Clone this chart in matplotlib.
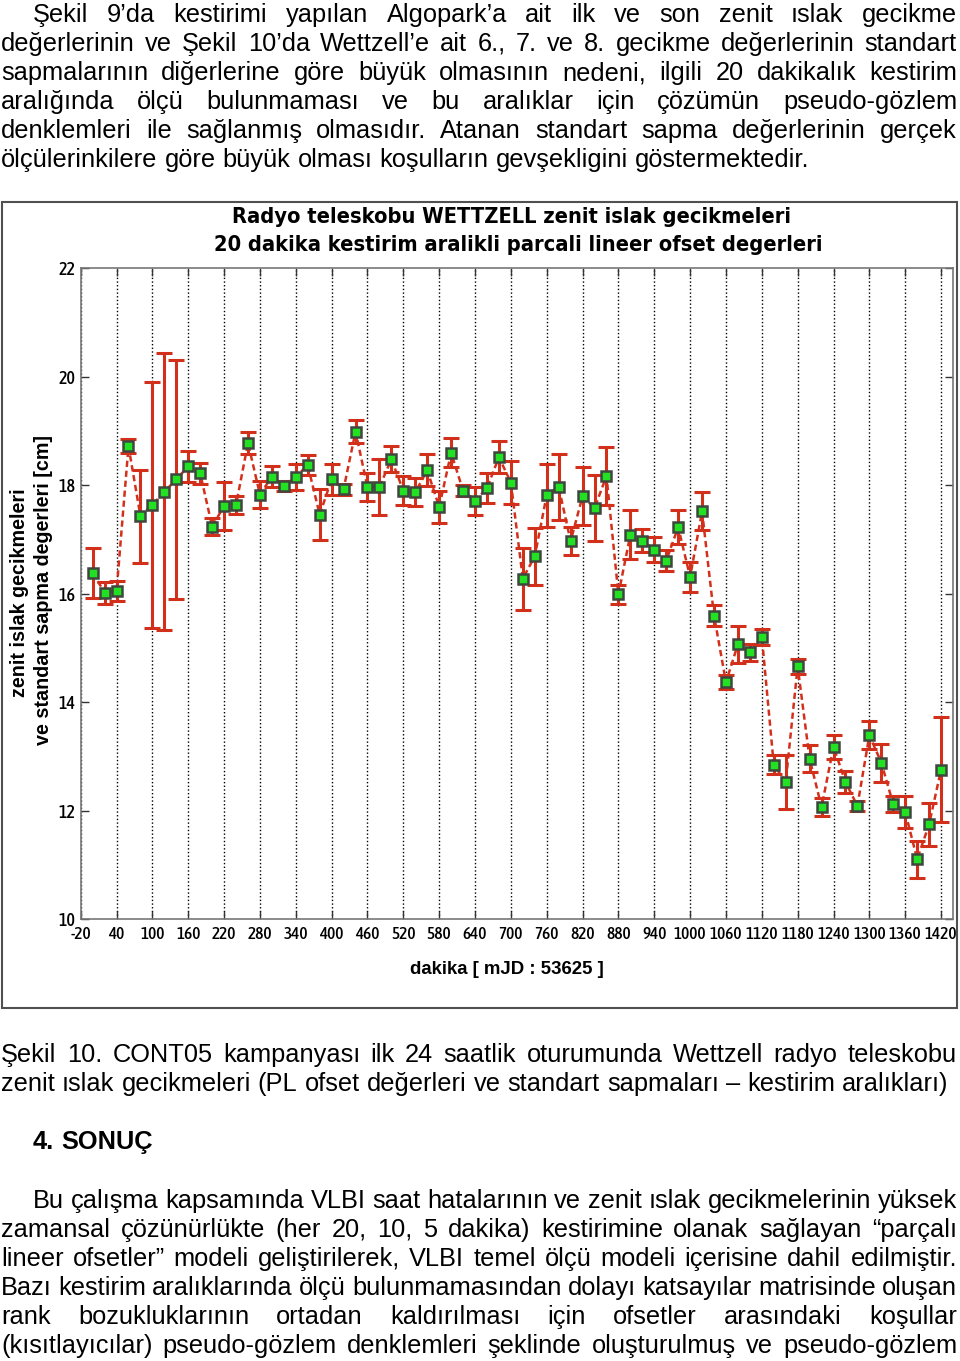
import matplotlib
matplotlib.use('Agg')
import numpy as np
import matplotlib.pyplot as plt
from matplotlib import font_manager
from matplotlib.font_manager import FontProperties
from matplotlib.patches import Rectangle

W, H = 960, 1361

# zenit islak gecikme (PL ofset) degerleri, 20 dakikalik araliklarla [cm]
minutes = np.arange(0, 1440, 20)
zwd = [16.39, 16.02, 16.05, 18.72, 17.43, 17.64, 17.88, 18.11, 18.35, 18.22,
       17.24, 17.62, 17.64, 18.78, 17.83, 18.16, 17.99, 18.16, 18.37, 17.46,
       18.11, 17.93, 18.99, 17.97, 17.97, 18.48, 17.90, 17.87, 18.28, 17.60,
       18.60, 17.90, 17.71, 17.95, 18.52, 18.05, 16.28, 16.69, 17.82, 17.97,
       16.97, 17.80, 17.58, 18.17, 15.99, 17.09, 16.98, 16.81, 16.61, 17.23,
       16.31, 17.52, 15.60, 14.37, 15.07, 14.92, 15.21, 12.85, 12.53, 14.66,
       12.96, 12.07, 13.18, 12.53, 12.09, 13.39, 12.89, 12.12, 11.98, 11.11,
       11.75, 12.76]
sigma = [0.46, 0.20, 0.18, 0.13, 0.86, 2.27, 2.55, 2.20, 0.29, 0.19,
         0.16, 0.45, 0.16, 0.21, 0.25, 0.20, 0.09, 0.24, 0.18, 0.47,
         0.28, 0.10, 0.21, 0.26, 0.52, 0.24, 0.27, 0.26, 0.29, 0.30,
         0.27, 0.10, 0.26, 0.27, 0.30, 0.40, 0.57, 0.53, 0.58, 0.61,
         0.26, 0.53, 0.61, 0.53, 0.18, 0.45, 0.21, 0.23, 0.19, 0.31,
         0.28, 0.35, 0.19, 0.13, 0.34, 0.15, 0.15, 0.18, 0.49, 0.13,
         0.25, 0.17, 0.22, 0.21, 0.09, 0.26, 0.35, 0.15, 0.29, 0.34,
         0.39, 0.96]
xticks = list(range(-20, 1421, 60))
yticks = list(range(10, 23, 2))

title_lines = ['Radyo teleskobu WETTZELL zenit islak gecikmeleri',
               '20 dakika kestirim aralikli parcali lineer ofset degerleri']
ylabel_lines = ['zenit islak gecikmeleri', 've standart sapma degerleri [cm]']
xlabel = 'dakika [ mJD : 53625 ]'

top_par = [
    'Şekil 9’da kestirimi yapılan Algopark’a ait ilk ve son zenit ıslak gecikme',
    'değerlerinin ve Şekil 10’da Wettzell’e ait 6., 7. ve 8. gecikme değerlerinin standart',
    'sapmalarının diğerlerine göre büyük olmasının nedeni, ilgili 20 dakikalık kestirim',
    'aralığında ölçü bulunmaması ve bu aralıklar için çözümün pseudo-gözlem',
    'denklemleri ile sağlanmış olmasıdır. Atanan standart sapma değerlerinin gerçek',
    'ölçülerinkilere göre büyük olması koşulların gevşekligini göstermektedir.',
]
caption = [
    'Şekil 10. CONT05 kampanyası ilk 24 saatlik oturumunda Wettzell radyo teleskobu',
    'zenit ıslak gecikmeleri (PL ofset değerleri ve standart sapmaları – kestirim aralıkları)',
]
heading = '4. SONUÇ'
bottom_par = [
    'Bu çalışma kapsamında VLBI saat hatalarının ve zenit ıslak gecikmelerinin yüksek',
    'zamansal çözünürlükte (her 20, 10, 5 dakika) kestirimine olanak sağlayan “parçalı',
    'lineer ofsetler” modeli geliştirilerek, VLBI temel ölçü modeli içerisine dahil edilmiştir.',
    'Bazı kestirim aralıklarında ölçü bulunmamasından dolayı katsayılar matrisinde oluşan',
    'rank bozukluklarının ortadan kaldırılması için ofsetler arasındaki koşullar',
    '(kısıtlayıcılar) pseudo-gözlem denklemleri şeklinde oluşturulmuş ve pseudo-gözlem',
]

plt.rcParams['axes.unicode_minus'] = False
body = 'Liberation Sans'

STRETCH = {'ultra-condensed': 100, 'extra-condensed': 200, 'condensed': 300,
           'semi-condensed': 400, 'normal': 500}


def stretch_num(f):
    s = f.stretch if isinstance(f.stretch, (int, float)) else STRETCH.get(f.stretch, 500)
    if 'Narrow' in f.name:
        s = min(s, 300)
    return s


def weight_num(w):
    if isinstance(w, (int, float)):
        return w
    return 700 if 'bold' in str(w).lower() else 400


def pick_face(want_stretch, want_weight):
    # nearest installed face by width and weight; None if nothing narrow exists
    best, path = None, None
    for f in font_manager.fontManager.ttflist:
        if f.style != 'normal' or stretch_num(f) >= 500:
            continue
        score = abs(stretch_num(f) - want_stretch) + abs(weight_num(f.weight) - want_weight) / 8
        if best is None or score < best:
            best, path = score, f.fname
    return path


title_path = pick_face(300, 700)
tick_path = pick_face(200, 500)
title_fp = FontProperties(fname=title_path) if title_path else FontProperties(family=body, weight='bold')
if tick_path:
    xtick_fp = FontProperties(fname=tick_path, size=12.5)
    ytick_fp = FontProperties(fname=tick_path, size=13)
else:
    xtick_fp = FontProperties(family=body, size=9.5)
    ytick_fp = FontProperties(family=body, size=11)

red = '#d3301c'
green = '#22e022'

fig = plt.figure(figsize=(9.6, 13.61), dpi=100)
renderer = fig.canvas.get_renderer()


def fx(px):
    return px / W


def fy(py):
    return 1 - py / H


def width_of(t):
    return t.get_window_extent(renderer).width


def fit(t, target):
    # scale the font so the text gets the width seen in the picture
    t.set_fontsize(t.get_fontsize() * target / width_of(t))


probe = fig.text(0, 0, top_par[-1], fontsize=17.5, family=body)
fit(probe, 803)
body_size = probe.get_fontsize()
probe.remove()


def write_line(s, base, x0, x1, justify, weight='normal'):
    words = s.split(' ')
    items = [fig.text(0, fy(base), w, fontsize=body_size, family=body,
                      weight=weight, va='baseline') for w in words]
    widths = [width_of(t) for t in items]
    if justify and len(items) > 1:
        gap = (x1 - x0 - sum(widths)) / (len(items) - 1)
    else:
        gap = body_size * 100 / 72 * 0.278
    x = x0
    for t, w in zip(items, widths):
        t.set_x(fx(x))
        x += w + gap


# page text
for i, line in enumerate(top_par):
    write_line(line, 22 + 29 * i, 33 if i == 0 else 1, 957, i < len(top_par) - 1)
write_line(caption[0], 1062, 1, 957, True)
write_line(caption[1], 1091, 1, 957, False)
write_line(heading, 1149, 33, 957, False, weight='bold')
for i, line in enumerate(bottom_par):
    write_line(line, 1208 + 29 * i, 33 if i == 0 else 1, 957, True)

# chart frame
fig.patches.append(Rectangle((fx(2), fy(1008)), (957 - 2) / W, (1008 - 202) / H,
                             transform=fig.transFigure, fill=False,
                             ec='#505050', lw=1.5))

t1 = fig.text(fx(512), fy(217), title_lines[0], ha='center', va='center',
              fontproperties=title_fp.copy(), fontsize=17)
fit(t1, 561)
# do not let the title grow taller than in the picture
if t1.get_window_extent(renderer).height > 26:
    t1.set_fontsize(t1.get_fontsize() * 26 / t1.get_window_extent(renderer).height)
t2 = fig.text(fx(518), fy(245), title_lines[1], ha='center', va='center',
              fontproperties=title_fp.copy(), fontsize=t1.get_fontsize())

yl2 = fig.text(fx(44), fy(590), ylabel_lines[1], rotation=90, ha='center',
               va='center', family=body, weight='bold', fontsize=14)
yl2.set_fontsize(yl2.get_fontsize() * 310 / yl2.get_window_extent(renderer).height)
fig.text(fx(20), fy(593), ylabel_lines[0], rotation=90, ha='center', va='center',
         family=body, weight='bold', fontsize=yl2.get_fontsize())

xl = fig.text(fx(507), fy(970), xlabel, ha='center', va='center',
              family=body, weight='bold', fontsize=14)
fit(xl, 195)

ax = fig.add_axes([80.7 / W, fy(919.3), (953 - 80.7) / W, (919.3 - 268.3) / H])
ax.errorbar(minutes, zwd, yerr=sigma, fmt='none', ecolor=red, elinewidth=2.2,
            capsize=6, capthick=2.2, zorder=2)
ax.plot(minutes, zwd, ls='--', dashes=(2.5, 1.5), color=red, lw=1.8, zorder=3)
ax.plot(minutes, zwd, ls='none', marker='s', ms=7.5, mfc=green, mec='#3e463e',
        mew=1.8, zorder=4)

ax.set_xlim(-20, 1440)
ax.set_ylim(10, 22)
ax.set_xticks(xticks)
ax.set_yticks(yticks)
ax.grid(axis='x', ls=':', color='black', lw=1)
ax.tick_params(direction='in', top=True, right=True, length=6, width=1,
               color='#333333')
ax.tick_params(axis='x', pad=5)
ax.tick_params(axis='y', pad=4)
for lab in ax.get_xticklabels():
    lab.set_fontproperties(xtick_fp)
for lab in ax.get_yticklabels():
    lab.set_fontproperties(ytick_fp)
for sp in ax.spines.values():
    sp.set_color('#777777')
    sp.set_linewidth(1.2)

# keep x tick labels apart if the narrow face is still too wide
fig.canvas.draw()
widest = max(lab.get_window_extent(renderer).width for lab in ax.get_xticklabels())
if widest > 33:
    for lab in ax.get_xticklabels():
        lab.set_fontsize(lab.get_fontsize() * 33 / widest)

fig.savefig('out.png', dpi=100)
